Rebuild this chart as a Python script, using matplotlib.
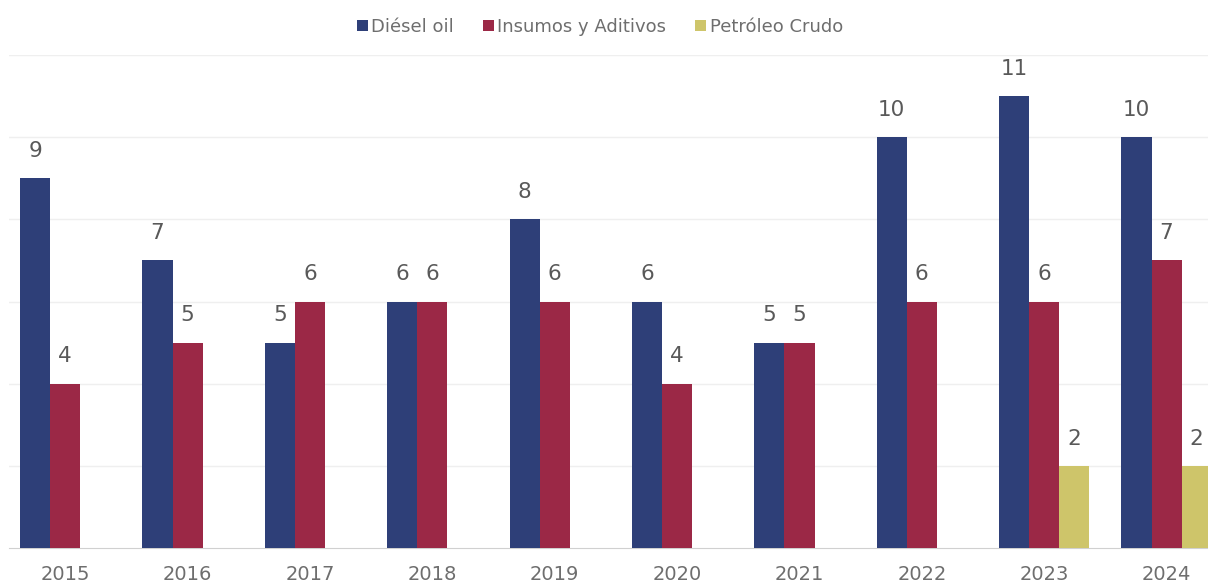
import numpy as np
import matplotlib
matplotlib.use("Agg")
import matplotlib.pyplot as plt
from matplotlib.patches import Patch

# Datos
anios = ["2015", "2016", "2017", "2018", "2019", "2020", "2021", "2022", "2023", "2024"]
diesel = [9, 7, 5, 6, 8, 6, 5, 10, 11, 10]
insumos = [4, 5, 6, 6, 6, 4, 5, 6, 6, 7]
petroleo = [0, 0, 0, 0, 0, 0, 0, 0, 2, 2]

series = ["Diésel oil", "Insumos y Aditivos", "Petróleo Crudo"]
colores = ["#2E3F78", "#9B2846", "#CEC56A"]
gris = "#595959"

plt.rcParams['font.family'] = ['DejaVu Sans']

W, H = 1208, 582
fig = plt.figure(figsize=(W / 100, H / 100), dpi=100)
ax = fig.add_axes([9 / W, (H - 548) / H, (W - 9) / W, (548 - 55) / H])

x = np.arange(len(anios))
ancho = 0.246
for k, (vals, col) in enumerate(zip([diesel, insumos, petroleo], colores)):
    pos = x + (k - 1) * ancho
    ax.bar(pos, vals, width=ancho, color=col, zorder=3)
    for px, v in zip(pos, vals):
        if v > 0:
            ax.text(px, v + 0.42, str(v), ha='center', va='bottom',
                    fontsize=15.5, color=gris)

ax.set_xlim(-0.459, (W - 65) / 122.4)
ax.set_ylim(0, 12)
ax.set_yticks(np.arange(2, 13, 2))
ax.yaxis.grid(True, color="#EFEFEF", linewidth=1, zorder=0)
ax.tick_params(axis='y', left=False, labelleft=False)
ax.tick_params(axis='x', length=0, pad=12, labelsize=14, labelcolor="#6E6E6E")
ax.set_xticks(x)
ax.set_xticklabels(anios)
for s in ['top', 'right', 'left']:
    ax.spines[s].set_visible(False)
ax.spines['bottom'].set_color("#D0D0D0")

handles = [Patch(facecolor=c) for c in colores]
fig.legend(handles, series, loc='center', bbox_to_anchor=(600 / W, 1 - 27 / H),
           ncol=3, frameon=False, fontsize=13, labelcolor="#6E6E6E",
           handlelength=0.6, handleheight=0.6, handletextpad=0.2, columnspacing=1.6)

fig.savefig("out.png", dpi=100)
